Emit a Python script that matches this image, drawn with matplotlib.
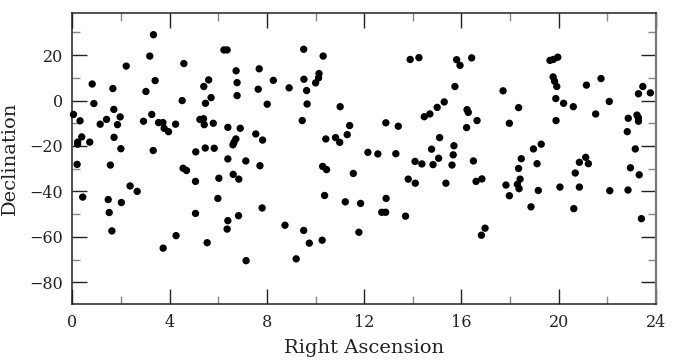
import matplotlib
matplotlib.use("Agg")
import matplotlib.pyplot as plt
from matplotlib.ticker import MultipleLocator

# Right Ascension (hours)
ra = [
    3.33, 3.18, 2.21, 4.58, 6.23, 6.36, 6.73, 7.68, 0.81, 1.66,
    3.40, 3.02, 5.60, 5.40, 5.70, 5.47, 6.77, 6.77, 7.64, 8.01,
    4.51, 0.88, 0.04, 0.31, 1.70, 1.96, 1.40, 1.14, 1.85, 2.92,
    3.26, 3.54, 3.72, 3.77, 3.95, 4.24, 5.24, 5.39, 5.42, 5.79,
    6.39, 6.90, 6.72, 6.64, 6.60, 7.54, 7.82, 0.38, 0.21, 0.21,
    0.71, 1.71, 1.99, 3.32, 5.07, 5.46, 5.83, 6.39, 7.13, 7.71,
    0.19, 1.56, 4.55, 4.69,
    0.42, 1.47, 2.37, 2.66, 2.01, 1.51, 1.62, 5.06, 6.02, 6.61,
    6.84, 5.98, 7.80, 5.06, 6.83, 6.39, 6.36, 4.26, 3.73, 5.54,
    7.14, 9.20,
    9.51, 10.31, 8.26, 8.91, 9.52, 9.63, 10.14, 10.12, 10.00, 9.65,
    9.45, 11.01, 11.40, 11.30, 10.82, 10.99, 10.42, 12.89, 13.40, 12.15,
    12.56, 13.30, 13.89, 14.25, 15.80, 15.94, 15.73, 15.29, 15.00, 14.70,
    14.47, 16.23, 16.28, 16.21, 15.10, 15.69, 14.77, 15.66, 15.06, 14.09,
    14.37, 14.83, 15.61, 10.29, 10.45, 16.42,
    19.64, 19.78, 19.96, 19.77, 19.83, 19.92, 17.71, 18.35, 17.97, 16.64,
    19.88, 20.20, 20.60, 19.89, 21.14, 21.74, 22.08, 21.52, 23.46, 23.28,
    23.77, 22.86, 23.22, 23.28, 23.28, 22.82, 23.15, 16.49, 18.96, 19.28,
    18.46, 18.35, 19.11, 20.85, 21.11, 21.22, 22.95,
    11.55, 10.37, 11.22, 11.85, 12.90, 12.72, 12.88, 13.70, 13.81, 14.10,
    15.36, 11.78, 8.74, 9.51, 9.74, 10.27,
    16.60, 16.84, 17.83, 18.30, 18.41, 18.37, 17.97, 19.16, 18.86, 20.68,
    20.05, 20.85, 20.62, 22.10, 23.31, 22.85, 23.40, 16.82, 16.97,
]

# Declination (degrees)
dec = [
    29.0, 19.6, 15.2, 16.3, 22.3, 22.3, 13.1, 14.0, 7.3, 5.3,
    8.8, 4.0, 9.1, 6.2, 1.3, -1.2, 7.9, 2.2, 5.0, -1.6,
    0.0, -1.3, -6.1, -8.9, -3.9, -7.2, -8.3, -10.4, -10.6, -9.1,
    -6.1, -9.7, -9.7, -12.2, -13.7, -10.4, -8.3, -8.0, -10.6, -10.0,
    -11.8, -12.2, -16.9, -18.4, -19.5, -14.7, -17.4, -16.0, -18.3, -19.2,
    -18.3, -16.2, -21.2, -22.0, -22.6, -20.9, -21.0, -25.7, -26.6, -28.7,
    -28.1, -28.4, -29.8, -30.8,
    -42.5, -43.6, -37.6, -40.0, -44.9, -49.3, -57.4, -35.6, -34.2, -32.5,
    -34.6, -43.1, -47.3, -49.7, -50.7, -52.9, -56.6, -59.5, -65.0, -62.6,
    -70.5, -69.7,
    22.6, 19.6, 8.9, 5.6, 9.4, 4.4, 11.9, 10.0, 7.8, -1.5,
    -8.8, -2.7, -11.0, -15.0, -16.3, -18.4, -16.9, -9.8, -11.3, -22.8,
    -23.5, -23.4, 18.1, 18.9, 18.0, 15.5, 6.2, -0.6, -3.0, -5.9,
    -7.1, -4.0, -5.2, -11.9, -16.3, -19.9, -21.4, -23.9, -25.4, -26.8,
    -27.9, -28.2, -28.4, -29.0, -30.4, 18.8,
    17.7, 18.1, 19.1, 10.4, 8.5, 6.2, 4.3, -3.1, -10.0, -8.8,
    0.9, -1.2, -2.7, -8.8, 6.8, 9.7, -0.4, -5.9, 6.2, 3.0,
    3.4, -7.8, -6.4, -7.6, -9.1, -13.7, -21.3, -26.6, -21.3, -19.2,
    -25.6, -29.9, -27.8, -27.2, -25.0, -27.8, -29.6,
    -32.1, -41.8, -44.6, -45.3, -43.1, -49.2, -49.2, -50.9, -34.6, -36.4,
    -36.4, -58.0, -54.9, -57.2, -62.8, -61.5,
    -35.6, -34.5, -37.2, -36.9, -34.6, -38.8, -41.9, -39.6, -46.8, -31.9,
    -38.1, -38.1, -47.6, -39.7, -32.7, -39.4, -52.0, -59.3, -56.2,
]

plt.rcParams["font.family"] = "DejaVu Serif"

fig = plt.figure(figsize=(6.75, 3.63), dpi=100)
ax = fig.add_axes([0.1074, 0.1625, 0.8644, 0.8025])

ax.scatter(ra, dec, s=28, c="black", edgecolors="none", clip_on=False, zorder=3)

ax.set_xlim(0, 24)
ax.set_ylim(-89.6, 38.7)
ax.xaxis.set_major_locator(MultipleLocator(4))
ax.xaxis.set_minor_locator(MultipleLocator(2))
ax.yaxis.set_major_locator(MultipleLocator(20))
ax.yaxis.set_minor_locator(MultipleLocator(10))

ax.tick_params(which="both", direction="in", top=True, right=True,
               labelsize=11.5, pad=7, labelcolor="#222222")
ax.tick_params(which="major", length=11, width=1.0, color="#222222")
ax.tick_params(which="minor", length=6, width=1.0, color="#888888")

for side in ["left", "top", "bottom"]:
    ax.spines[side].set_linewidth(1.1)
    ax.spines[side].set_color("#222222")
ax.spines["right"].set_linewidth(1.6)
ax.spines["right"].set_color("#777777")

ax.set_xlabel("Right Ascension", fontsize=14, labelpad=6, color="#222222")
ax.set_ylabel("Declination", fontsize=14, labelpad=7, color="#222222")

fig.savefig("out.png", dpi=100)
